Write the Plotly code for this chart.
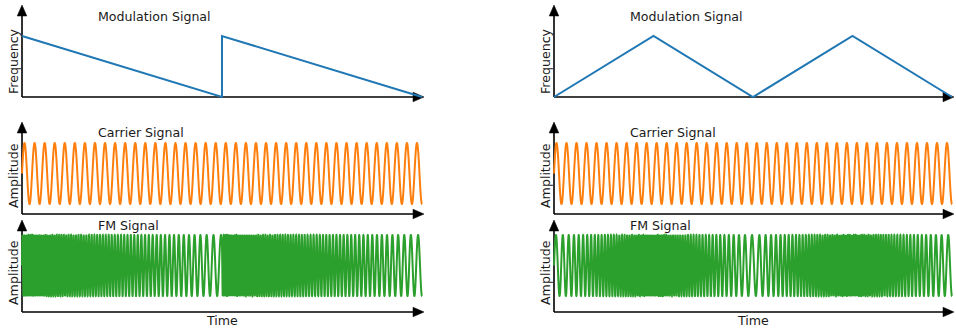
import numpy as np
import plotly.graph_objects as go

# ---------------- data ----------------
# modulation signal breakpoints (normalised time, normalised frequency)
saw_t = [0.0, 0.5, 0.5, 1.0]
saw_m = [1.0, 0.0, 1.0, 0.0]
tri_t = [0.0, 0.25, 0.5, 0.75, 1.0]
tri_m = [0.0, 1.0, 0.0, 1.0, 0.0]

carrier_cycles = 39.75      # cycles of the carrier across the time span
fm_base_freq = 49.75        # FM frequency (cycles/span) where modulation = 0
fm_deviation = 150.0        # extra cycles/span at modulation = 1

titles = ["Modulation Signal", "Carrier Signal", "FM Signal"]
ylabels = ["Frequency", "Amplitude", "Amplitude"]
xlabel = "Time"

colors = ["#1f77b4", "#ff7f0e", "#2ca02c"]

# ---------------- derived signals ----------------
N = 20000
t = np.linspace(0.0, 1.0, N)
carrier = np.sin(2 * np.pi * carrier_cycles * t)


def fm_from(mod_t, mod_m):
    m = np.interp(t, mod_t, mod_m)
    f = fm_base_freq + fm_deviation * m
    phase = np.concatenate([[0.0], np.cumsum(0.5 * (f[1:] + f[:-1]) * np.diff(t))])
    return np.sin(2 * np.pi * phase)


fm_saw = fm_from(saw_t, saw_m)
fm_tri = fm_from(tri_t, tri_m)

# ---------------- layout geometry (pixels) ----------------
W, H = 956, 328


def PX(x):
    return x / W


def PY(y):
    return 1 - y / H


cols = [dict(x0=22, x1=422), dict(x0=554, x1=952)]
rows = [
    dict(top=2, bot=100, rng=[-0.049, 1.557], axis_y=97, tip=5, title_y=16, lab_y=61),
    dict(top=118, bot=216, rng=[-1.393, 1.82], axis_y=214, tip=122, title_y=132, lab_y=176),
    dict(top=216, bot=314, rng=[-1.59, 1.623], axis_y=312, tip=220, title_y=225, lab_y=273),
]

fig = go.Figure()
layout = dict(
    width=W, height=H, margin=dict(l=0, r=0, t=0, b=0),
    paper_bgcolor="white", plot_bgcolor="rgba(0,0,0,0)", showlegend=False,
)
shapes = []
annotations = []
FONT = dict(family="DejaVu Sans", size=12.6, color="#1a1a1a")

series = [
    [(saw_t, saw_m), (t, carrier), (t, fm_saw)],
    [(tri_t, tri_m), (t, carrier), (t, fm_tri)],
]

idx = 0
for ci, c in enumerate(cols):
    for ri, r in enumerate(rows):
        idx += 1
        xs = "" if idx == 1 else str(idx)
        pad = 3
        span = c["x1"] - c["x0"]
        layout["xaxis" + xs] = dict(
            domain=[PX(c["x0"] - pad), PX(c["x1"] + pad)],
            range=[-pad / span, 1 + pad / span],
            visible=False, anchor="y" + xs, fixedrange=True,
        )
        layout["yaxis" + xs] = dict(
            domain=[PY(r["bot"]), PY(r["top"])],
            range=r["rng"], visible=False, anchor="x" + xs, fixedrange=True,
        )
        xd, yd = series[ci][ri]
        fig.add_trace(go.Scatter(
            x=xd, y=yd, mode="lines", xaxis="x" + xs, yaxis="y" + xs,
            line=dict(color=colors[ri], width=2.0, simplify=False), hoverinfo="skip",
        ))

        # axes with arrow heads (drawn beneath the data lines)
        ay = r["axis_y"]
        x0 = c["x0"]
        xtip = c["x1"] + 2
        hl, hw = 11, 4.8
        shapes.append(dict(type="line", xref="paper", yref="paper", layer="below",
                           x0=PX(x0), y0=PY(ay), x1=PX(xtip - hl + 1), y1=PY(ay),
                           line=dict(color="black", width=1.6)))
        shapes.append(dict(type="path", xref="paper", yref="paper", layer="below",
                           path=f"M {PX(xtip)},{PY(ay)} L {PX(xtip - hl)},{PY(ay - hw)} "
                                f"L {PX(xtip - hl)},{PY(ay + hw)} Z",
                           fillcolor="black", line=dict(color="black", width=0.5)))
        shapes.append(dict(type="line", xref="paper", yref="paper", layer="below",
                           x0=PX(x0), y0=PY(ay), x1=PX(x0), y1=PY(r["tip"] + hl - 1),
                           line=dict(color="black", width=1.6)))
        shapes.append(dict(type="path", xref="paper", yref="paper", layer="below",
                           path=f"M {PX(x0)},{PY(r['tip'])} L {PX(x0 - hw)},{PY(r['tip'] + hl)} "
                                f"L {PX(x0 + hw)},{PY(r['tip'] + hl)} Z",
                           fillcolor="black", line=dict(color="black", width=0.5)))

        annotations.append(dict(text=titles[ri], xref="paper", yref="paper",
                                x=PX(x0 + 74), y=PY(r["title_y"]), xanchor="left",
                                yanchor="middle", showarrow=False, font=FONT))
        annotations.append(dict(text=ylabels[ri], xref="paper", yref="paper",
                                x=PX(x0 - 9), y=PY(r["lab_y"]), xanchor="center",
                                yanchor="middle", textangle=-90, showarrow=False, font=FONT))
    annotations.append(dict(text=xlabel, xref="paper", yref="paper",
                            x=PX((c["x0"] + c["x1"]) / 2), y=PY(320), xanchor="center",
                            yanchor="middle", showarrow=False, font=FONT))

layout["shapes"] = shapes
layout["annotations"] = annotations
fig.update_layout(**layout)
fig.write_html("out.html")
